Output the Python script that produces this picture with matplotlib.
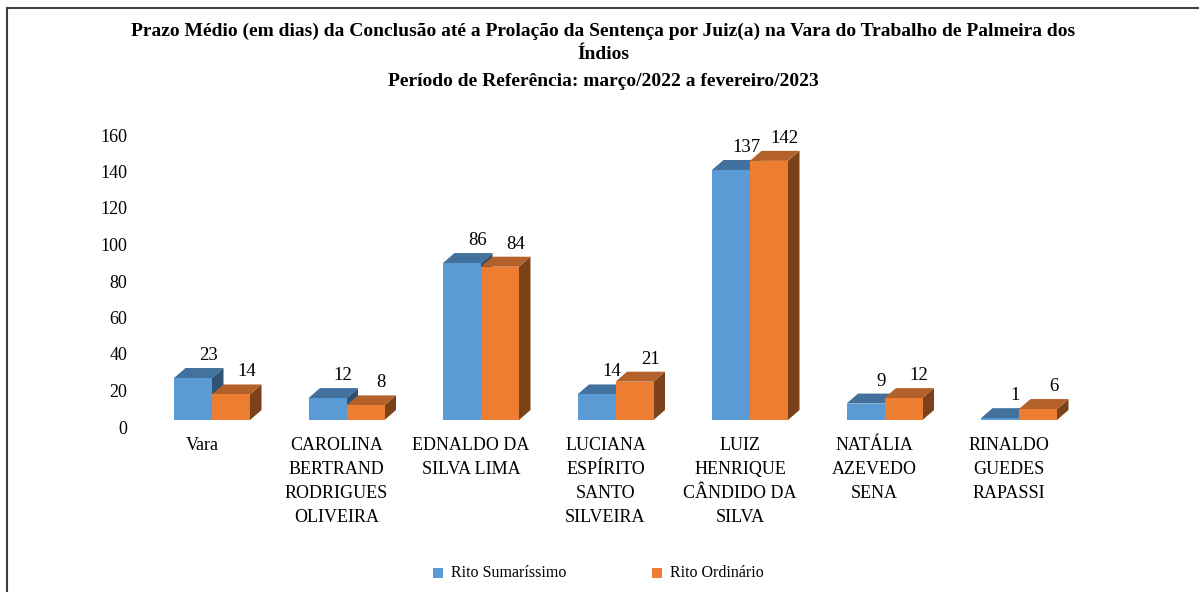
import matplotlib.pyplot as plt
import matplotlib.transforms as mtransforms
from matplotlib.patches import Polygon, Rectangle

plt.rcParams['font.family'] = ['Liberation Serif', 'DejaVu Serif']

categorias = ["Vara", "CAROLINA\nBERTRAND\nRODRIGUES\nOLIVEIRA", "EDNALDO DA\nSILVA LIMA",
              "LUCIANA\nESPÍRITO\nSANTO\nSILVEIRA", "LUIZ\nHENRIQUE\nCÂNDIDO DA\nSILVA",
              "NATÁLIA\nAZEVEDO\nSENA", "RINALDO\nGUEDES\nRAPASSI"]
sumarissimo = [23, 12, 86, 14, 137, 9, 1]
ordinario = [14, 8, 84, 21, 142, 12, 6]
series = ["Rito Sumaríssimo", "Rito Ordinário"]

# frente, topo, lado
cores = [("#5B9BD5", "#41719C", "#2F5375"),
         ("#ED7D31", "#B4602A", "#7B4119")]

fig = plt.figure(figsize=(11.99, 5.92), dpi=100)
W, H = 1199, 592
# eixo: pixel x 140..1190, y 110..420
ax = fig.add_axes([140 / W, 1 - 420 / H, 1050 / W, 310 / H])
px_x = 134.5  # px por categoria
px_y = 1.825  # px por unidade
ax.set_xlim(-72 / px_x, -72 / px_x + 1050 / px_x)
ax.set_ylim(0, 310 / px_y)

w = 38 / px_x
dx = 11.5 / px_x
dy = 10 / px_y


def barra3d(x0, v, c):
    frente, topo, lado = c
    ax.add_patch(Polygon([(x0 + w, 0), (x0 + w + dx, dy), (x0 + w + dx, v + dy), (x0 + w, v)],
                         closed=True, fc=lado, ec='none', clip_on=False))
    ax.add_patch(Polygon([(x0, v), (x0 + dx, v + dy), (x0 + w + dx, v + dy), (x0 + w, v)],
                         closed=True, fc=topo, ec='none', clip_on=False))
    ax.add_patch(Rectangle((x0, 0), w, v, fc=frente, ec='none', clip_on=False))


for i in range(len(categorias)):
    for k, vals in enumerate([sumarissimo, ordinario]):
        x0 = i - w + k * w
        barra3d(x0, vals[i], cores[k])
        ax.text(x0 + w / 2 + dx + 4 / px_x, vals[i] + dy + 4 / px_y, str(vals[i]),
                ha='center', va='bottom', fontsize=13.5)

ax.set_xticks([i - 10 / px_x for i in range(len(categorias))])
ax.set_xticklabels(categorias, fontsize=13, linespacing=1.55, va='top')
ax.set_yticks(range(0, 161, 20))
ax.tick_params(axis='both', length=0, labelsize=13)
ax.tick_params(axis='x', pad=12)
ax.tick_params(axis='y', pad=9)
off = mtransforms.ScaledTranslation(0, -7 / 100, fig.dpi_scale_trans)
for lb in ax.get_yticklabels():
    lb.set_transform(lb.get_transform() + off)
for s in ax.spines.values():
    s.set_visible(False)

fig.text(603 / W, 1 - 43 / H,
         "Prazo Médio (em dias) da Conclusão até a Prolação da Sentença por Juiz(a) na Vara do Trabalho de Palmeira dos\nÍndios",
         ha='center', va='center', fontsize=14, fontweight='bold', linespacing=1.45)
fig.text(603 / W, 1 - 81 / H, "Período de Referência: março/2022 a fevereiro/2023",
         ha='center', va='center', fontsize=14, fontweight='bold')

# legenda
for k, (nome, xq) in enumerate(zip(series, [433, 652])):
    fig.patches.append(Rectangle((xq / W, 1 - 578 / H), 10 / W, 10 / H, fc=cores[k][0], ec='none',
                                 transform=fig.transFigure, figure=fig))
    fig.text((xq + 18) / W, 1 - 573 / H, nome, ha='left', va='center', fontsize=11.5)

fig.patches.append(Rectangle((7 / W, -0.05), 1.1, 1.05 - 8 / H, fill=False, ec='#404040', lw=1.5,
                             transform=fig.transFigure, figure=fig))

fig.savefig("out.png", dpi=100)
